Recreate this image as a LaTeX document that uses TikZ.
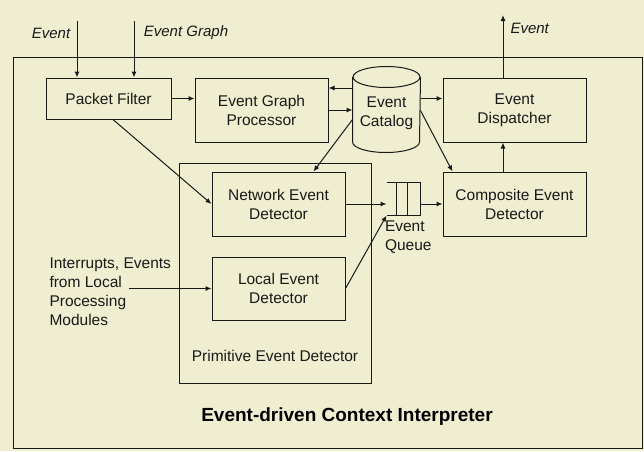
\documentclass[tikz,border=0pt]{standalone}
\usepackage{fontspec}
\setmainfont{Liberation Sans}
\usetikzlibrary{arrows.meta,calc}
\definecolor{paper}{RGB}{239,238,208}
\definecolor{ink}{RGB}{25,25,25}

\begin{document}
\begin{tikzpicture}[x=1pt,y=-1pt,line width=1pt,
  font=\fontsize{15.5}{19}\selectfont, text=ink,
  box/.style={draw=ink, align=center, inner sep=0pt},
  arr/.style={draw=ink, -{Latex[length=6pt,width=5pt]}},
  inlabel/.style={font=\fontsize{15}{18}\selectfont\itshape, inner sep=0pt}]
\fill[paper] (0,0) rectangle (644,451);
\useasboundingbox (0,0) rectangle (644,451);

% outer frame and the primitive detector group
\node[box, minimum width=629pt, minimum height=391pt] (ctx) at (327.5,252.5) {};
\node[box, minimum width=192pt, minimum height=220pt] (ped) at (275,273) {};
\node[inner sep=0pt] (pedname) at (275,356) {Primitive Event Detector};
\node[inner sep=0pt, font=\fontsize{19}{22}\selectfont\bfseries, text=black] (title) at (347,417) {Event-driven Context Interpreter};

% blocks
\node[box, minimum width=125pt, minimum height=41pt] (pf) at (108.5,98.5) {Packet Filter};
\node[box, minimum width=133pt, minimum height=64pt] (egp) at (261.5,110) {Event Graph\\Processor};
\node[box, minimum width=143pt, minimum height=64pt] (ed) at (514.5,110) {Event\\Dispatcher};
\node[box, minimum width=143pt, minimum height=64pt] (ced) at (514.5,204) {Composite Event\\Detector};
\node[box, minimum width=133pt, minimum height=64pt] (ned) at (278.5,204) {Network Event\\Detector};
\node[box, minimum width=133pt, minimum height=63pt] (led) at (278.5,288.5) {Local Event\\Detector};

% catalog drum
\node[align=center, inner sep=0pt, minimum width=67pt, minimum height=85pt] (cat) at (386.5,109.5) {};
\draw[ink] ([yshift=-10.5pt]cat.north west) -- ([yshift=10.5pt]cat.south west)
  arc[start angle=180, end angle=360, x radius=33.5pt, y radius=10.5pt]
  -- ([yshift=-10.5pt]cat.north east);
\draw[ink] ([yshift=-10.5pt]cat.north) ellipse [x radius=33.5pt, y radius=10.5pt];
\node[align=center, inner sep=0pt] (catname) at ([yshift=-4pt]cat.center) {Event\\Catalog};

% queue: open on the left, three slots
\node[minimum width=33pt, minimum height=32pt, inner sep=0pt] (queue) at (403.5,199) {};
\draw[ink] (queue.north west) -- (queue.north east) -- (queue.south east) -- (queue.south west);
\draw[ink] ([xshift=10pt]queue.north west) -- ([xshift=10pt]queue.south west);
\draw[ink] ([xshift=21pt]queue.north west) -- ([xshift=21pt]queue.south west);
\node[anchor=north west, align=left, inner sep=0pt] (qname) at ([xshift=-2pt,yshift=-5pt]queue.south west) {Event\\Queue};

% inputs and output
\coordinate (evin) at (77,21);
\coordinate (egin) at (134,21);
\coordinate (evout) at (503,15);
\node[inlabel] (evinname) at (51,33) {Event};
\node[inlabel] (eginname) at (186,33) {Event Graph};
\node[inlabel, anchor=west] (evoutname) at (510,28) {Event};
\node[anchor=west, align=left, inner sep=0pt] (intname) at (49,292) {Interrupts, Events\\from Local\\Processing\\Modules};
\coordinate (intin) at (129,288.5);

% connectors
\draw[arr] (evin) -- (evin |- pf.north);
\draw[arr] (egin) -- (egin |- pf.north);
\draw[arr] (pf.east) -- (pf.east -| egp.west);
\draw[arr] ([xshift=4.5pt]pf.south) -- (ned.west);
\draw[arr] ($(cat.west)+(0,-21.5)$) coordinate (c1) -- (c1 -| egp.east);
\draw[arr] (egp.east) -- (egp.east -| cat.west);
\draw[arr] ($(cat.east)+(0,-11)$) coordinate (c2) -- (c2 -| ed.west);
\draw[arr] ($(cat.east)+(0,1)$) -- ([xshift=10pt]ced.north west);
\draw[arr] ($(cat.west)+(0,10)$) -- ([xshift=-32pt]ned.north east);
\draw[arr] (intin) -- (led.west);
\draw[arr] (ned.east) -- (ned.east -| queue.west);
\draw[arr] (led.east) -- (queue.south west);
\draw[arr] (queue.east |- ced.west) -- (ced.west);
\draw[arr] (ced.north -| evout) -- (ed.south -| evout);
\draw[arr] (ed.north -| evout) -- (evout);
\end{tikzpicture}
\end{document}
